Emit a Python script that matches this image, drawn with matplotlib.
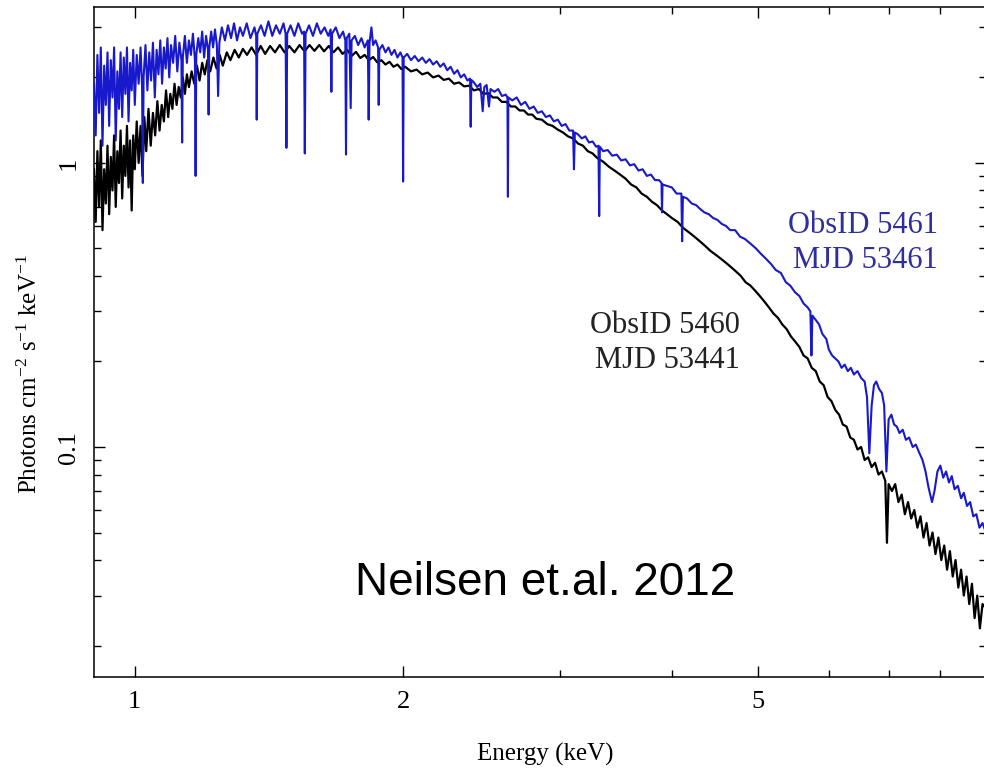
import numpy as np
import matplotlib
matplotlib.use('Agg')
import matplotlib.pyplot as plt
from matplotlib.ticker import FixedLocator, NullFormatter

serif = 'Liberation Serif'
plt.rcParams['mathtext.fontset'] = 'custom'
plt.rcParams['mathtext.rm'] = serif
plt.rcParams['mathtext.it'] = serif + ':italic'

# ObsID 5461 (blue) - energy (keV), flux (photons cm-2 s-1 keV-1)
e_5461 = [0.900, 0.904, 0.908, 0.912, 0.916, 0.920, 0.924, 0.928, 0.932, 0.936,
          0.940, 0.944, 0.948, 0.952, 0.956, 0.960, 0.964, 0.968, 0.972, 0.976,
          0.980, 0.984, 0.988, 0.992, 0.996, 1.000, 1.005, 1.010, 1.015, 1.019,
          1.021, 1.023, 1.028, 1.033, 1.038, 1.043, 1.048, 1.053, 1.058, 1.063,
          1.068, 1.073, 1.078, 1.083, 1.088, 1.093, 1.098, 1.104, 1.110, 1.116,
          1.122, 1.128, 1.130, 1.132, 1.138, 1.144, 1.150, 1.156, 1.162, 1.168,
          1.170, 1.172, 1.178, 1.184, 1.190, 1.196, 1.202, 1.208, 1.210, 1.212,
          1.218, 1.224, 1.230, 1.236, 1.240, 1.244, 1.252, 1.262, 1.272, 1.282,
          1.292, 1.302, 1.312, 1.322, 1.335, 1.348, 1.362, 1.368, 1.370, 1.372,
          1.385, 1.398, 1.412, 1.426, 1.440, 1.454, 1.468, 1.476, 1.479, 1.482,
          1.495, 1.510, 1.525, 1.540, 1.548, 1.551, 1.554, 1.568, 1.584, 1.600,
          1.616, 1.632, 1.648, 1.658, 1.661, 1.664, 1.680, 1.696, 1.712, 1.722,
          1.725, 1.728, 1.740, 1.746, 1.750, 1.765, 1.780, 1.795, 1.810, 1.825,
          1.829, 1.833, 1.842, 1.850, 1.862, 1.874, 1.877, 1.880, 1.895, 1.910,
          1.925, 1.940, 1.955, 1.970, 1.985, 1.996, 1.999, 2.002, 2.020, 2.040,
          2.060, 2.080, 2.100, 2.120, 2.140, 2.160, 2.180, 2.200, 2.220, 2.240,
          2.260, 2.280, 2.300, 2.320, 2.340, 2.360, 2.376, 2.380, 2.384, 2.400,
          2.420, 2.440, 2.455, 2.465, 2.480, 2.495, 2.505, 2.530, 2.555, 2.580,
          2.605, 2.617, 2.620, 2.623, 2.650, 2.680, 2.710, 2.740, 2.770, 2.800,
          2.830, 2.860, 2.890, 2.920, 2.950, 2.980, 3.010, 3.040, 3.070, 3.100,
          3.107, 3.114, 3.140, 3.170, 3.200, 3.230, 3.260, 3.290, 3.310, 3.316,
          3.322, 3.350, 3.390, 3.430, 3.470, 3.510, 3.550, 3.590, 3.630, 3.670,
          3.710, 3.750, 3.790, 3.830, 3.870, 3.895, 3.900, 3.905, 3.950, 4.000,
          4.050, 4.100, 4.108, 4.116, 4.160, 4.210, 4.260, 4.300, 4.350, 4.400,
          4.450, 4.500, 4.550, 4.600, 4.650, 4.710, 4.770, 4.830, 4.900, 4.970,
          5.030, 5.100, 5.170, 5.230, 5.300, 5.370, 5.430, 5.500, 5.560, 5.620,
          5.680, 5.720, 5.735, 5.750, 5.800, 5.850, 5.900, 5.960, 6.000, 6.050,
          6.100, 6.150, 6.200, 6.250, 6.300, 6.350, 6.400, 6.460, 6.520, 6.580,
          6.620, 6.660, 6.700, 6.740, 6.780, 6.830, 6.880, 6.920, 6.960, 7.000,
          7.050, 7.100, 7.150, 7.200, 7.260, 7.320, 7.380, 7.450, 7.510, 7.570,
          7.640, 7.700, 7.760, 7.830, 7.880, 7.940, 8.000, 8.060, 8.120, 8.180,
          8.240, 8.300, 8.370, 8.440, 8.500, 8.570, 8.640, 8.710, 8.780, 8.850,
          8.920, 9.000]
f_5461 = [1.90, 1.25, 2.40, 1.50, 2.55, 1.15, 2.20, 1.60, 2.45, 1.35,
          2.30, 1.70, 2.55, 1.20, 2.10, 1.55, 2.45, 1.45, 2.35, 1.75,
          2.55, 1.40, 2.25, 1.80, 2.50, 1.60, 2.40, 1.90, 2.55, 1.85,
          0.85, 2.00, 2.60, 1.80, 2.45, 1.95, 2.65, 1.70, 2.50, 2.05,
          2.70, 1.90, 2.55, 2.15, 2.75, 2.00, 2.60, 2.25, 2.80, 2.10,
          2.65, 2.30, 1.18, 2.35, 2.80, 2.25, 2.70, 2.40, 2.85, 2.30,
          0.90, 2.40, 2.75, 2.45, 2.90, 2.35, 2.80, 2.50, 1.48, 2.55,
          2.90, 2.55, 2.95, 2.60, 1.72, 2.65, 3.00, 2.70, 3.05, 2.75,
          3.10, 2.70, 3.00, 2.80, 3.10, 2.75, 3.00, 2.80, 1.42, 2.85,
          3.05, 2.80, 3.15, 2.80, 3.05, 2.85, 3.10, 2.85, 1.13, 2.85,
          3.05, 2.80, 3.10, 2.85, 2.90, 1.08, 2.85, 3.05, 2.80, 3.10,
          2.85, 3.00, 2.80, 2.95, 1.78, 2.85, 3.00, 2.75, 2.90, 2.70,
          1.07, 2.75, 2.85, 1.56, 2.70, 2.80, 2.60, 2.75, 2.55, 2.70,
          1.42, 2.65, 3.00, 2.60, 2.70, 2.55, 1.60, 2.50, 2.60, 2.45,
          2.55, 2.40, 2.50, 2.35, 2.45, 2.35, 0.86, 2.35, 2.42, 2.30,
          2.38, 2.28, 2.35, 2.25, 2.32, 2.22, 2.28, 2.18, 2.24, 2.12,
          2.18, 2.06, 2.12, 2.00, 2.05, 1.95, 1.98, 1.34, 1.96, 1.92,
          1.85, 1.90, 1.52, 1.85, 1.88, 1.58, 1.82, 1.78, 1.82, 1.72,
          1.74, 1.70, 0.76, 1.70, 1.66, 1.70, 1.60, 1.64, 1.55, 1.58,
          1.50, 1.52, 1.45, 1.47, 1.40, 1.42, 1.35, 1.37, 1.30, 1.30,
          0.95, 1.28, 1.26, 1.22, 1.24, 1.18, 1.19, 1.14, 1.15, 0.65,
          1.14, 1.10, 1.11, 1.06, 1.07, 1.02, 1.03, 0.98, 0.99, 0.94,
          0.95, 0.90, 0.91, 0.87, 0.87, 0.85, 0.67, 0.84, 0.83, 0.82,
          0.78, 0.78, 0.53, 0.76, 0.75, 0.72, 0.71, 0.69, 0.67, 0.66,
          0.64, 0.63, 0.61, 0.60, 0.58, 0.58, 0.55, 0.54, 0.52, 0.50,
          0.48, 0.46, 0.44, 0.42, 0.41, 0.38, 0.37, 0.35, 0.34, 0.32,
          0.31, 0.30, 0.21, 0.29, 0.28, 0.27, 0.25, 0.24, 0.22, 0.21,
          0.205, 0.20, 0.19, 0.195, 0.185, 0.19, 0.18, 0.185, 0.175, 0.17,
          0.15, 0.095, 0.14, 0.165, 0.17, 0.16, 0.155, 0.14, 0.082, 0.125,
          0.13, 0.12, 0.118, 0.112, 0.115, 0.106, 0.108, 0.10, 0.102, 0.096,
          0.09, 0.082, 0.072, 0.064, 0.07, 0.082, 0.086, 0.078, 0.082, 0.075,
          0.079, 0.071, 0.073, 0.066, 0.069, 0.062, 0.064, 0.057, 0.058, 0.052,
          0.054, 0.050]

# ObsID 5460 (black)
e_5460 = [0.900, 0.904, 0.908, 0.912, 0.916, 0.920, 0.924, 0.928, 0.932, 0.936,
          0.940, 0.944, 0.948, 0.952, 0.956, 0.960, 0.964, 0.968, 0.972, 0.976,
          0.980, 0.984, 0.988, 0.992, 0.996, 1.000, 1.005, 1.010, 1.015, 1.020,
          1.025, 1.030, 1.036, 1.042, 1.048, 1.054, 1.060, 1.066, 1.072, 1.078,
          1.084, 1.090, 1.096, 1.102, 1.108, 1.114, 1.120, 1.126, 1.132, 1.138,
          1.144, 1.150, 1.158, 1.166, 1.174, 1.182, 1.190, 1.198, 1.206, 1.215,
          1.225, 1.235, 1.245, 1.255, 1.268, 1.280, 1.294, 1.308, 1.322, 1.336,
          1.352, 1.368, 1.384, 1.400, 1.418, 1.436, 1.454, 1.472, 1.490, 1.510,
          1.530, 1.550, 1.570, 1.590, 1.610, 1.630, 1.650, 1.670, 1.690, 1.710,
          1.730, 1.750, 1.770, 1.790, 1.810, 1.830, 1.850, 1.870, 1.890, 1.910,
          1.930, 1.950, 1.970, 1.990, 2.010, 2.040, 2.070, 2.100, 2.130, 2.160,
          2.190, 2.220, 2.250, 2.280, 2.310, 2.340, 2.370, 2.400, 2.430, 2.460,
          2.490, 2.520, 2.550, 2.580, 2.610, 2.640, 2.670, 2.700, 2.730, 2.760,
          2.790, 2.820, 2.860, 2.900, 2.940, 2.980, 3.020, 3.060, 3.100, 3.140,
          3.180, 3.220, 3.260, 3.300, 3.350, 3.400, 3.450, 3.500, 3.550, 3.600,
          3.650, 3.700, 3.750, 3.800, 3.850, 3.900, 3.950, 4.000, 4.060, 4.120,
          4.180, 4.240, 4.300, 4.360, 4.420, 4.480, 4.540, 4.600, 4.660, 4.720,
          4.780, 4.840, 4.900, 4.960, 5.020, 5.080, 5.140, 5.200, 5.260, 5.320,
          5.380, 5.440, 5.500, 5.560, 5.620, 5.680, 5.740, 5.800, 5.860, 5.920,
          5.980, 6.040, 6.100, 6.160, 6.220, 6.280, 6.340, 6.400, 6.460, 6.520,
          6.580, 6.640, 6.700, 6.760, 6.820, 6.880, 6.940, 6.970, 7.000, 7.060,
          7.120, 7.180, 7.240, 7.300, 7.360, 7.420, 7.480, 7.540, 7.600, 7.660,
          7.720, 7.780, 7.840, 7.900, 7.960, 8.020, 8.080, 8.140, 8.200, 8.260,
          8.320, 8.380, 8.440, 8.500, 8.560, 8.620, 8.680, 8.740, 8.800, 8.860,
          8.920, 9.000]
f_5460 = [0.95, 0.62, 1.10, 0.70, 1.20, 0.58, 0.95, 0.72, 1.15, 0.66,
          1.05, 0.80, 1.25, 0.70, 1.10, 0.85, 1.30, 0.75, 1.15, 0.90,
          1.35, 0.82, 1.20, 0.68, 1.25, 0.95, 1.40, 1.00, 1.35, 0.90,
          1.45, 1.10, 1.55, 1.15, 1.50, 1.25, 1.65, 1.30, 1.60, 1.40,
          1.80, 1.45, 1.75, 1.55, 1.90, 1.60, 1.85, 1.70, 2.00, 1.75,
          2.05, 1.85, 2.10, 1.90, 2.20, 1.95, 2.25, 2.05, 2.30, 2.10,
          2.35, 2.15, 2.40, 2.20, 2.45, 2.30, 2.50, 2.35, 2.52, 2.40,
          2.55, 2.40, 2.58, 2.42, 2.58, 2.45, 2.60, 2.45, 2.58, 2.45,
          2.60, 2.47, 2.60, 2.48, 2.60, 2.47, 2.58, 2.45, 2.55, 2.42,
          2.50, 2.38, 2.46, 2.34, 2.40, 2.30, 2.36, 2.26, 2.30, 2.22,
          2.27, 2.18, 2.22, 2.14, 2.18, 2.10, 2.13, 2.05, 2.08, 2.00,
          2.03, 1.96, 1.98, 1.90, 1.92, 1.86, 1.87, 1.80, 1.82, 1.75,
          1.76, 1.70, 1.70, 1.64, 1.64, 1.58, 1.58, 1.53, 1.53, 1.48,
          1.48, 1.43, 1.42, 1.37, 1.35, 1.31, 1.28, 1.24, 1.22, 1.17,
          1.15, 1.10, 1.08, 1.04, 1.01, 0.97, 0.94, 0.91, 0.88, 0.84,
          0.82, 0.78, 0.76, 0.73, 0.71, 0.68, 0.66, 0.64, 0.62, 0.59,
          0.57, 0.55, 0.53, 0.51, 0.49, 0.475, 0.46, 0.445, 0.43, 0.415,
          0.40, 0.38, 0.37, 0.355, 0.34, 0.325, 0.31, 0.295, 0.285, 0.27,
          0.26, 0.245, 0.235, 0.225, 0.21, 0.205, 0.19, 0.185, 0.17, 0.165,
          0.15, 0.145, 0.135, 0.13, 0.12, 0.118, 0.108, 0.106, 0.098, 0.10,
          0.09, 0.092, 0.085, 0.088, 0.08, 0.082, 0.076, 0.046, 0.074, 0.07,
          0.074, 0.064, 0.068, 0.058, 0.064, 0.056, 0.06, 0.052, 0.057, 0.048,
          0.054, 0.045, 0.05, 0.042, 0.048, 0.040, 0.045, 0.037, 0.043, 0.035,
          0.040, 0.032, 0.037, 0.030, 0.035, 0.028, 0.033, 0.025, 0.030, 0.023,
          0.028, 0.027]

xticks = [1, 2, 5]
xtick_labels = ['1', '2', '5']
yticks = [0.1, 1]
ytick_labels = ['0.1', '1']

fig = plt.figure(figsize=(9.84, 7.74), dpi=100)
ax = fig.add_axes([0.0955, 0.1253, 0.9065, 0.8657])

ax.plot(e_5460, f_5460, color='black', lw=1.6, zorder=2)
ax.plot(e_5461, f_5461, color='#1818cc', lw=1.5, zorder=3)

ax.set_xscale('log')
ax.set_yscale('log')
ax.set_xlim(0.9, 9.0)
ax.set_ylim(0.0155, 3.54)

ax.xaxis.set_major_locator(FixedLocator(xticks))
ax.xaxis.set_minor_locator(FixedLocator([3, 4, 6, 7, 8, 9]))
ax.xaxis.set_minor_formatter(NullFormatter())
ax.set_xticklabels(xtick_labels, fontsize=19, family=serif)

ax.yaxis.set_major_locator(FixedLocator(yticks))
ax.yaxis.set_minor_locator(FixedLocator([0.02, 0.03, 0.04, 0.05, 0.06, 0.07, 0.08, 0.09,
                                         0.2, 0.3, 0.4, 0.5, 0.6, 0.7, 0.8, 0.9, 2, 3]))
ax.yaxis.set_minor_formatter(NullFormatter())
ax.set_yticklabels(ytick_labels, fontsize=19, family=serif, rotation=90, va='center')

ax.tick_params(which='both', direction='in', top=True, right=True, width=1)
ax.tick_params(which='major', length=8, pad=10)
ax.tick_params(which='minor', length=5)
for s in ax.spines.values():
    s.set_linewidth(1.1)

ax.set_xlabel('Energy (keV)', fontsize=18, family=serif)
ax.xaxis.set_label_coords(0.5056, -0.098)
ax.set_ylabel(r'Photons cm$^{-2}$ s$^{-1}$ keV$^{-1}$', fontsize=18, family=serif)
ax.yaxis.set_label_coords(-0.058, 0.452)

ax.text(0.946, 0.648, 'ObsID 5461\nMJD 53461', transform=ax.transAxes, ha='right', va='center',
        multialignment='right', fontsize=22, family=serif, color='#2e2e9e', linespacing=1.3)
ax.text(0.724, 0.4985, 'ObsID 5460\nMJD 53441', transform=ax.transAxes, ha='right', va='center',
        multialignment='right', fontsize=22, family=serif, color='#222222', linespacing=1.3)
ax.text(0.5056, 0.140, 'Neilsen et.al. 2012', transform=ax.transAxes, ha='center', va='center',
        fontsize=33, family='Liberation Sans', color='black')

fig.savefig('out.png', dpi=100)
